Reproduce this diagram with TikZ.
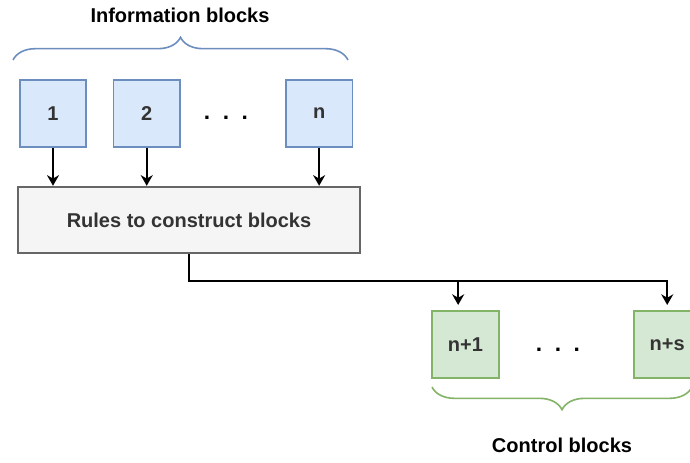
\documentclass[tikz,border=0pt]{standalone}
\usepackage{fontspec}
\setmainfont{Liberation Sans}
\usepackage{tikz}
\usetikzlibrary{arrows.meta,positioning,decorations.pathreplacing}
\definecolor{infofill}{HTML}{DAE8FC}
\definecolor{infoline}{HTML}{6C8EBF}
\definecolor{ctrlfill}{HTML}{D5E8D4}
\definecolor{ctrlline}{HTML}{82B366}
\definecolor{rulefill}{HTML}{F5F5F5}
\definecolor{ruleline}{HTML}{666666}
\definecolor{labeltext}{HTML}{333333}

\begin{document}
\begin{tikzpicture}[x=0.75pt,y=-0.75pt,>={Stealth[length=8pt,width=9pt]},
  font=\fontsize{15}{18}\selectfont\bfseries,
  info/.style={draw=infoline,fill=infofill,line width=1.3pt,minimum width=50pt,minimum height=50pt,text=labeltext},
  ctrl/.style={draw=ctrlline,fill=ctrlfill,line width=1.3pt,minimum width=50pt,minimum height=50pt,text=labeltext},
  rules/.style={draw=ruleline,fill=rulefill,line width=1.3pt,minimum width=256pt,minimum height=50pt,text=labeltext},
  link/.style={line width=1.6pt},
  bracket/.style={decorate,line width=1.2pt,decoration={brace,amplitude=17pt}}]
  \useasboundingbox (0,0) rectangle (690,462);
  \node (itop) at (180,15) {Information blocks};
  \node[info] (b1) at (53,113.5) {1};
  \node[info] (b2) [right=19pt of b1] {2};
  \node[info] (bn) [right=78pt of b2] {n};
  \node (idots) at (226,118) {\fontsize{17}{18}\selectfont.\ \ .\ \ .};
  \node[rules] (rules) at (189,220) {Rules to construct blocks};
  \node[ctrl] (c1) at (465.5,344.5) {n+1};
  \node[ctrl] (cs) [right=100pt of c1] {n+s};
  \node (cdots) at (558,350) {\fontsize{17}{18}\selectfont.\ \ .\ \ .};
  \node (cbot) at (562,445) {Control blocks};

  \draw[bracket,infoline] (13,60) -- (348,60);
  \draw[bracket,ctrlline] (692,387) -- (432,387);

  \draw[link,->] (b1) -- (b1 |- rules.north);
  \draw[link,->] (b2) -- (b2 |- rules.north);
  \draw[link,->] (bn) -- (bn |- rules.north);

  \coordinate (split) at ([yshift=-20pt]rules.south);
  \coordinate (c1in) at ([xshift=-5.5pt]c1.north);
  \draw[link,->,shorten >=4pt] (rules.south) -- (split) -| (cs.north);
  \draw[link,->,shorten >=4pt] (c1in |- split) -- (c1in);
\end{tikzpicture}
\end{document}
